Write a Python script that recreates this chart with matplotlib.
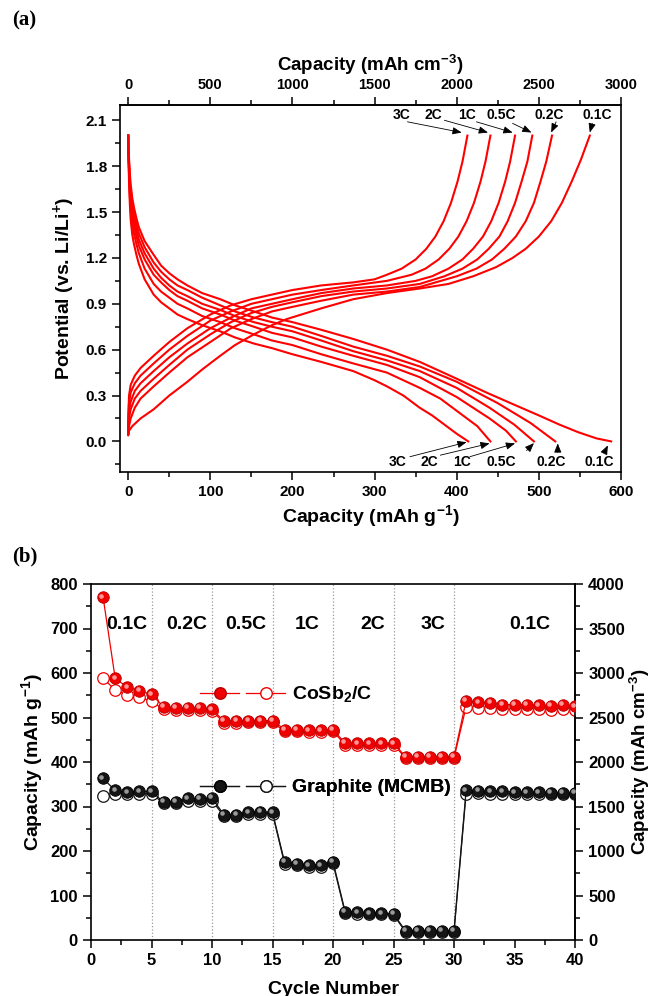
import matplotlib
matplotlib.use("Agg")
import matplotlib.pyplot as plt
from matplotlib.lines import Line2D
from matplotlib.legend_handler import HandlerTuple
from matplotlib.ticker import MultipleLocator, FormatStrFormatter
from matplotlib.transforms import offset_copy

plt.rcParams["font.family"] = ["Liberation Sans", "DejaVu Sans"]
plt.rcParams["font.weight"] = "bold"
plt.rcParams["axes.labelweight"] = "bold"
plt.rcParams["mathtext.default"] = "regular"
plt.rcParams["axes.linewidth"] = 1.2

# ── (a) discharge curves: capacity (mAh/g) vs potential (V) ─────────────────
D01_CAP = [0, 0.3, 1, 2, 3, 5, 7, 10, 13, 20, 31, 40, 50, 60, 72, 90, 112, 130, 153, 175,
           200, 235, 274, 315, 355, 400, 436, 470, 500, 525, 548, 570, 588]
D01_V = [2.0, 1.92, 1.85, 1.75, 1.68, 1.59, 1.53, 1.46, 1.40, 1.31, 1.22, 1.15, 1.10, 1.06,
         1.02, 0.97, 0.93, 0.89, 0.85, 0.81, 0.78, 0.73, 0.67, 0.60, 0.52, 0.41, 0.32, 0.24,
         0.17, 0.11, 0.06, 0.02, 0.0]
D02_CAP = [0, 0.3, 1, 2, 3, 5, 7, 10, 13, 20, 31, 40, 50, 60, 72, 90, 112, 130, 153, 175,
           200, 235, 274, 315, 355, 400, 450, 490, 520]
D02_V = [2.0, 1.91, 1.82, 1.71, 1.64, 1.55, 1.49, 1.42, 1.36, 1.27, 1.17, 1.11, 1.06, 1.02,
         0.99, 0.94, 0.89, 0.85, 0.81, 0.78, 0.75, 0.69, 0.62, 0.56, 0.49, 0.39, 0.25, 0.12, 0.0]
D05_CAP = [0, 0.3, 1, 2, 3, 5, 7, 10, 13, 20, 31, 40, 50, 60, 72, 90, 112, 130, 153, 175,
           200, 235, 274, 315, 355, 400, 440, 470, 494]
D05_V = [2.0, 1.90, 1.80, 1.67, 1.60, 1.51, 1.45, 1.38, 1.32, 1.23, 1.13, 1.07, 1.02, 0.98,
         0.95, 0.90, 0.86, 0.82, 0.78, 0.75, 0.72, 0.66, 0.59, 0.53, 0.46, 0.35, 0.22, 0.11, 0.0]
D1_CAP = [0, 0.3, 1, 2, 3, 5, 7, 10, 13, 20, 31, 40, 50, 60, 72, 90, 112, 130, 153, 175,
          200, 235, 274, 315, 355, 400, 420, 440, 460, 472]
D1_V = [2.0, 1.89, 1.78, 1.64, 1.56, 1.47, 1.41, 1.34, 1.28, 1.19, 1.09, 1.04, 0.99, 0.95,
        0.92, 0.87, 0.83, 0.79, 0.75, 0.71, 0.68, 0.62, 0.56, 0.50, 0.42, 0.29, 0.22, 0.15,
        0.07, 0.0]
D2_CAP = [0, 0.3, 1, 2, 3, 5, 7, 10, 13, 20, 31, 40, 50, 60, 72, 90, 112, 130, 153, 175,
          200, 235, 274, 315, 355, 380, 400, 425, 441]
D2_V = [2.0, 1.87, 1.75, 1.60, 1.51, 1.42, 1.36, 1.29, 1.23, 1.13, 1.03, 0.98, 0.94, 0.90,
        0.87, 0.82, 0.78, 0.74, 0.70, 0.66, 0.63, 0.57, 0.51, 0.45, 0.35, 0.28, 0.20, 0.10, 0.0]
D3_CAP = [0, 0.3, 1, 2, 3, 5, 7, 10, 13, 20, 31, 40, 50, 60, 72, 90, 112, 130, 153, 175,
          200, 235, 274, 300, 315, 335, 355, 370, 385, 400, 414]
D3_V = [2.0, 1.85, 1.70, 1.55, 1.45, 1.35, 1.29, 1.22, 1.16, 1.06, 0.96, 0.91, 0.87, 0.83,
        0.80, 0.76, 0.72, 0.68, 0.64, 0.61, 0.57, 0.52, 0.46, 0.40, 0.36, 0.30, 0.22, 0.17,
        0.11, 0.05, 0.0]

# ── (a) charge curves ────────────────────────────────────────────────────────
C01_CAP = [0, 1, 5, 15, 31, 50, 72, 90, 112, 130, 153, 175, 193, 235, 274, 315, 355, 390,
           420, 448, 468, 484, 500, 515, 528, 540, 551, 562]
C01_V = [0.04, 0.07, 0.10, 0.15, 0.21, 0.30, 0.39, 0.47, 0.56, 0.63, 0.70, 0.76, 0.80, 0.87,
         0.93, 0.97, 1.00, 1.03, 1.08, 1.14, 1.20, 1.26, 1.34, 1.44, 1.56, 1.70, 1.84, 2.0]
C02_CAP = [0, 0.3, 1, 3, 8, 15, 31, 50, 72, 100, 125, 150, 175, 200, 235, 274, 315, 355, 400,
           424, 443, 458, 472, 484, 494, 502, 509, 516]
C02_V = [0.05, 0.07, 0.10, 0.15, 0.22, 0.28, 0.36, 0.45, 0.55, 0.65, 0.74, 0.80, 0.85, 0.88,
         0.92, 0.96, 0.98, 1.01, 1.08, 1.13, 1.19, 1.26, 1.34, 1.44, 1.56, 1.70, 1.83, 2.0]
C05_CAP = [0, 0.3, 1, 3, 8, 15, 31, 50, 72, 100, 125, 150, 175, 200, 235, 274, 315, 355, 385,
           407, 425, 439, 452, 462, 471, 479, 486, 492]
C05_V = [0.05, 0.10, 0.15, 0.21, 0.28, 0.33, 0.41, 0.50, 0.60, 0.70, 0.78, 0.84, 0.88, 0.91,
         0.95, 0.98, 1.00, 1.03, 1.08, 1.13, 1.19, 1.26, 1.34, 1.44, 1.56, 1.70, 1.83, 2.0]
C1_CAP = [0, 0.3, 1, 3, 8, 15, 31, 50, 72, 100, 125, 150, 175, 200, 235, 274, 315, 350, 370,
          390, 407, 420, 432, 442, 451, 459, 465, 471]
C1_V = [0.05, 0.13, 0.20, 0.26, 0.33, 0.38, 0.46, 0.55, 0.64, 0.74, 0.81, 0.87, 0.90, 0.93,
        0.97, 1.00, 1.02, 1.05, 1.08, 1.13, 1.19, 1.26, 1.34, 1.44, 1.56, 1.70, 1.83, 2.0]
C2_CAP = [0, 0.3, 1, 3, 8, 15, 31, 50, 72, 100, 125, 150, 175, 200, 235, 274, 315, 345, 362,
          378, 391, 402, 412, 421, 429, 435, 441]
C2_V = [0.05, 0.16, 0.25, 0.32, 0.38, 0.43, 0.51, 0.60, 0.69, 0.79, 0.85, 0.90, 0.93, 0.96,
        0.99, 1.02, 1.05, 1.09, 1.13, 1.19, 1.26, 1.34, 1.44, 1.56, 1.70, 1.83, 2.0]
C3_CAP = [0, 0.3, 1, 3, 8, 15, 31, 50, 72, 100, 125, 150, 175, 200, 235, 274, 300, 315, 333,
          350, 363, 374, 384, 393, 401, 407, 413]
C3_V = [0.05, 0.20, 0.30, 0.37, 0.43, 0.48, 0.56, 0.65, 0.74, 0.83, 0.89, 0.93, 0.96, 0.99,
        1.02, 1.04, 1.06, 1.09, 1.13, 1.19, 1.26, 1.34, 1.44, 1.56, 1.70, 1.83, 2.0]

CURVE_LABELS = ["3C", "2C", "1C", "0.5C", "0.2C", "0.1C"]
TOP_TICKS = [0, 500, 1000, 1500, 2000, 2500, 3000]

# ── (b) rate performance (mAh/g) ─────────────────────────────────────────────
CYCLES = list(range(1, 41))
COSB_DIS = [770, 588, 568, 560, 552, 524, 522, 521, 521, 518,
            492, 492, 493, 493, 493, 473, 472, 471, 471, 472,
            443, 442, 442, 442, 442, 412, 411, 411, 411, 412,
            538, 534, 533, 529, 529, 528, 527, 526, 528, 525]
COSB_CHG = [588, 562, 551, 545, 537, 518, 517, 516, 516, 515,
            488, 488, 489, 489, 489, 469, 469, 468, 468, 469,
            439, 439, 439, 439, 439, 409, 408, 408, 408, 409,
            524, 522, 521, 519, 519, 518, 518, 517, 518, 517]
MCMB_DIS = [363, 336, 332, 334, 334, 310, 311, 318, 317, 319,
            281, 282, 287, 288, 287, 175, 171, 168, 168, 176,
            64, 62, 60, 60, 59, 20, 20, 20, 20, 20,
            336, 335, 334, 334, 332, 332, 332, 331, 331, 330]
MCMB_CHG = [324, 328, 328, 329, 329, 307, 308, 312, 312, 313,
            278, 279, 283, 284, 284, 171, 168, 165, 165, 172,
            61, 59, 58, 58, 57, 18, 18, 18, 18, 18,
            329, 330, 329, 329, 328, 328, 328, 327, 327, 327]
RATE_TEXT = ["0.1C", "0.2C", "0.5C", "1C", "2C", "3C", "0.1C"]
RATE_X = [3.0, 7.9, 12.8, 17.9, 23.3, 28.3, 36.3]
STEP_EDGES = [5, 10, 15, 20, 25, 30]

RED, RED_EDGE, RED_SHINE = "#f00000", "#b80000", "#ffa8a8"
BLK, BLK_EDGE, BLK_SHINE = "#151515", "#000000", "#a8a8a8"

W, H = 652, 996
fig = plt.figure(figsize=(W / 100, H / 100), dpi=100)


def frac(l, t, r, b):
    return [l / W, 1 - b / H, (r - l) / W, (b - t) / H]


def style_ticks(axis, size):
    axis.tick_params(which="both", direction="out", labelsize=size, width=1.1)
    axis.tick_params(which="major", length=6)
    axis.tick_params(which="minor", length=3.5)


# ── panel (a) ────────────────────────────────────────────────────────────────
ax1 = fig.add_axes(frac(120, 105, 621, 472))
dis = [(D3_CAP, D3_V), (D2_CAP, D2_V), (D1_CAP, D1_V),
       (D05_CAP, D05_V), (D02_CAP, D02_V), (D01_CAP, D01_V)]
chg = [(C3_CAP, C3_V), (C2_CAP, C2_V), (C1_CAP, C1_V),
       (C05_CAP, C05_V), (C02_CAP, C02_V), (C01_CAP, C01_V)]
for cx, cy in dis + chg:
    ax1.plot(cx, cy, color="#ff0000", lw=1.5, solid_joinstyle="round")

ax1.set_xlim(-10, 600)
ax1.set_ylim(-0.2, 2.2)
ax1.xaxis.set_major_locator(MultipleLocator(100))
ax1.xaxis.set_minor_locator(MultipleLocator(50))
ax1.yaxis.set_major_locator(MultipleLocator(0.3))
ax1.yaxis.set_minor_locator(MultipleLocator(0.15))
ax1.yaxis.set_major_formatter(FormatStrFormatter("%.1f"))
style_ticks(ax1, 11)
ax1.set_xlabel("Capacity (mAh g$^{-1}$)", fontsize=14, labelpad=3)
ax1.set_ylabel("Potential (vs. Li/Li$^{+}$)", fontsize=14, labelpad=6)

top = ax1.secondary_xaxis("top", functions=(lambda x: x * 5, lambda x: x / 5))
top.set_xticks(TOP_TICKS)
top.xaxis.set_minor_locator(MultipleLocator(250))
style_ticks(top, 10.5)
top.set_xlabel("Capacity (mAh cm$^{-3}$)", fontsize=13.5, labelpad=5)

# rate labels with arrows, top (charge ends) and bottom (discharge ends)
top_lbl_x = [333, 371, 412, 454, 512, 571]
top_tail = [(340, 2.09), (385, 2.10), (424, 2.09), (468, 2.08), (521, 2.09), (565, 2.08)]
top_head = [(406, 2.02), (438, 2.02), (468, 2.02), (491, 2.02), (515, 2.02), (562, 2.02)]
bot_lbl_x = [328, 367, 407, 454, 515, 574]
bot_tail = [(343, -0.10), (380, -0.09), (416, -0.10), (485, -0.06), (523, -0.07), (580, -0.07)]
bot_head = [(412, -0.005), (440, -0.013), (471, -0.013), (494, -0.011), (523, -0.013), (584, -0.026)]
arrow = dict(arrowstyle="-|>,head_length=0.55,head_width=0.22", color="black",
             lw=0.6, shrinkA=0, shrinkB=0)
for i, lab in enumerate(CURVE_LABELS):
    ax1.text(top_lbl_x[i], 2.135, lab, ha="center", va="center", fontsize=10)
    ax1.annotate("", xy=top_head[i], xytext=top_tail[i], arrowprops=arrow)
    ax1.text(bot_lbl_x[i], -0.135, lab, ha="center", va="center", fontsize=10)
    ax1.annotate("", xy=bot_head[i], xytext=bot_tail[i], arrowprops=arrow)

# ── panel (b) ────────────────────────────────────────────────────────────────
ax2 = fig.add_axes(frac(91, 584, 575, 940))
for xe in STEP_EDGES:
    ax2.axvline(xe, color="#9a9a9a", ls=":", lw=0.9, zorder=0)

shine = offset_copy(ax2.transData, fig=fig, x=-1.7, y=1.7, units="dots")


def balls(x, y, base, edge, gloss):
    ax2.plot(x, y, color=base, lw=0.9, marker="o", ms=8.3, mfc=base, mec=edge,
             mew=0.6, zorder=3)
    ax2.plot(x, y, ls="none", marker="o", ms=3.3, mfc=gloss, mec="none",
             alpha=0.9, transform=shine, zorder=4)


ax2.plot(CYCLES, COSB_CHG, color=RED, lw=0.9, marker="o", ms=8.3, mfc="white",
         mec=RED, mew=0.9, zorder=2)
ax2.plot(CYCLES, MCMB_CHG, color=BLK, lw=0.9, marker="o", ms=8.3, mfc="white",
         mec=BLK, mew=0.9, zorder=2)
balls(CYCLES, COSB_DIS, RED, RED_EDGE, RED_SHINE)
balls(CYCLES, MCMB_DIS, BLK, BLK_EDGE, BLK_SHINE)

for tx, lab in zip(RATE_X, RATE_TEXT):
    ax2.text(tx, 708, lab, ha="center", va="center", fontsize=14)

ax2.set_xlim(0, 40)
ax2.set_ylim(0, 800)
ax2.xaxis.set_major_locator(MultipleLocator(5))
ax2.xaxis.set_minor_locator(MultipleLocator(2.5))
ax2.yaxis.set_major_locator(MultipleLocator(100))
ax2.yaxis.set_minor_locator(MultipleLocator(50))
style_ticks(ax2, 12)
ax2.set_xlabel("Cycle Number", fontsize=14, labelpad=9)
ax2.set_ylabel("Capacity (mAh g$^{-1}$)", fontsize=14, labelpad=4)

right = ax2.secondary_yaxis("right", functions=(lambda y: y * 5, lambda y: y / 5))
right.yaxis.set_major_locator(MultipleLocator(500))
right.yaxis.set_minor_locator(MultipleLocator(250))
style_ticks(right, 12)
right.set_ylabel("Capacity (mAh cm$^{-3}$)", fontsize=13.5, labelpad=2)


def legend_entry(label, base, edge, anchor):
    hf = Line2D([], [], color=base, lw=0.9, marker="o", ms=8.3, mfc=base, mec=edge)
    ho = Line2D([], [], color=base, lw=0.9, marker="o", ms=8.3, mfc="white", mec=base)
    leg = ax2.legend([(hf, ho)], [label], handler_map={tuple: HandlerTuple(ndivide=None, pad=0.35)},
                     loc="center left", bbox_to_anchor=anchor, frameon=False,
                     handlelength=4.4, handletextpad=0.35, borderpad=0,
                     borderaxespad=0, fontsize=14)
    ax2.add_artist(leg)


legend_entry("CoSb$_2$/C", RED, RED_EDGE, (0.225, 0.69))
legend_entry("Graphite (MCMB)", BLK, BLK_EDGE, (0.225, 0.428))

serif = dict(family="Liberation Serif", fontweight="bold", fontsize=15, va="center")
fig.text(12 / W, 1 - 20 / H, "(a)", **serif)
fig.text(12 / W, 1 - 556 / H, "(b)", **serif)

fig.savefig("out.png", dpi=100)
